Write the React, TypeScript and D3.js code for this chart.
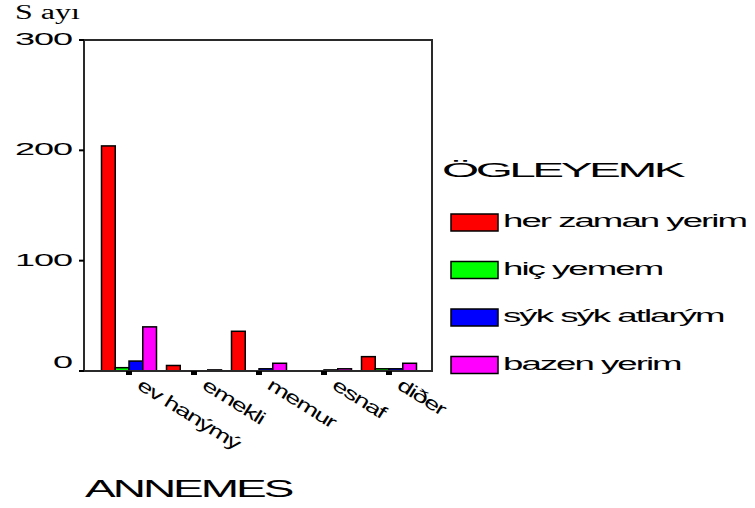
import React from "react";
import * as d3 from "d3";

const categories = ["ev hanýmý", "emekli", "memur", "esnaf", "diðer"];
const seriesNames = ["her zaman yerim", "hiç yemem", "sýk sýk atlarým", "bazen yerim"];
const herZamanYerim = [204, 5, 36, 0, 13];
const hicYemem = [3, 0, 0, 0, 2];
const sykSykAtlarym = [9, 0, 2, 1, 2];
const bazenYerim = [40, 1, 7, 2, 7];
const seriesColors = ["#ff0000", "#00ff00", "#0000ff", "#ff00ff"];
const yTicks = [0, 100, 200, 300];
const yTitle = "S ayı";
const xTitle = "ANNEMES";
const legendTitle = "ÖGLEYEMK";

const seriesValues = [herZamanYerim, hicYemem, sykSykAtlarym, bazenYerim];

const W = 755;
const H = 508;
const frame = { left: 84, right: 432, top: 40, bottom: 371 };
const sans = "'Liberation Sans', Arial, sans-serif";
const serif = "'Liberation Serif', 'Times New Roman', serif";

export default function App() {
  const y = d3.scaleLinear().domain([0, 300]).range([frame.bottom, frame.top]);
  const x0 = d3
    .scaleBand<string>()
    .domain(categories)
    .range([96.5, 421.5])
    .paddingInner(0.154)
    .paddingOuter(0.077);
  const x1 = d3
    .scaleBand<string>()
    .domain(seriesNames)
    .range([0, x0.bandwidth()]);

  return (
    <svg
      width={W}
      height={H}
      style={{ position: "absolute", left: 0, top: 0, background: "#fff" }}
    >
      <rect x={0} y={0} width={W} height={H} fill="#fff" />
      {/* y title */}
      <text
        transform={`translate(15,19) scale(1.6,1)`}
        fontFamily={serif}
        fontSize={20}
        fill="#000"
      >
        {yTitle}
      </text>

      {/* bars */}
      {categories.map((c, i) => (
        <g key={c} transform={`translate(${x0(c)},0)`}>
          {seriesNames.map((s, j) => {
            const v = seriesValues[j][i];
            if (!v) return null;
            return (
              <rect
                key={s}
                x={x1(s)}
                y={y(v)}
                width={x1.bandwidth()}
                height={y(0) - y(v)}
                fill={seriesColors[j]}
                stroke="#000"
                strokeWidth={1.5}
              />
            );
          })}
        </g>
      ))}

      {/* frame */}
      <rect
        x={frame.left}
        y={frame.top}
        width={frame.right - frame.left}
        height={frame.bottom - frame.top}
        fill="none"
        stroke="#2a2a2a"
        strokeWidth={2}
      />

      {/* y ticks */}
      {yTicks.map((t) => (
        <g key={t}>
          <line
            x1={frame.left - 5}
            x2={frame.left}
            y1={y(t)}
            y2={y(t)}
            stroke="#000"
            strokeWidth={2}
          />
          <text
            transform={`translate(72,${t === 0 ? y(t) - 3 : y(t) + 5}) scale(2.12,1)`}
            textAnchor="end"
            fontFamily={sans}
            fontSize={17}
            letterSpacing={-0.5}
            fill="#000"
          >
            {t}
          </text>
        </g>
      ))}

      {/* x ticks and labels */}
      {categories.map((c) => {
        const cx = (x0(c) as number) + x0.bandwidth() / 2;
        return (
          <g key={c}>
            <rect x={cx - 3} y={frame.bottom} width={6} height={4} fill="#000" />
            <text
              transform={`translate(${cx + 7},388) rotate(32) scale(1.5,1)`}
              fontFamily={sans}
              fontSize={18}
              letterSpacing={-1}
              fill="#000"
            >
              {c}
            </text>
          </g>
        );
      })}

      {/* x title */}
      <text
        transform={`translate(85,497) scale(2,1)`}
        fontFamily={sans}
        fontSize={23}
        letterSpacing={-1.5}
        fill="#000"
      >
        {xTitle}
      </text>

      {/* legend */}
      <text
        transform={`translate(442,177) scale(2.33,1)`}
        fontFamily={sans}
        fontSize={20.5}
        letterSpacing={-1.5}
        fill="#000"
      >
        {legendTitle}
      </text>
      {seriesNames.map((s, j) => {
        const top = 214 + 47.5 * j;
        return (
          <g key={s}>
            <rect
              x={451}
              y={top}
              width={47}
              height={17}
              fill={seriesColors[j]}
              stroke="#000"
              strokeWidth={1.5}
            />
            <text
              transform={`translate(503,${top + 13}) scale(1.98,1)`}
              fontFamily={sans}
              fontSize={18.5}
              letterSpacing={-1}
              fill="#000"
            >
              {s}
            </text>
          </g>
        );
      })}
    </svg>
  );
}
